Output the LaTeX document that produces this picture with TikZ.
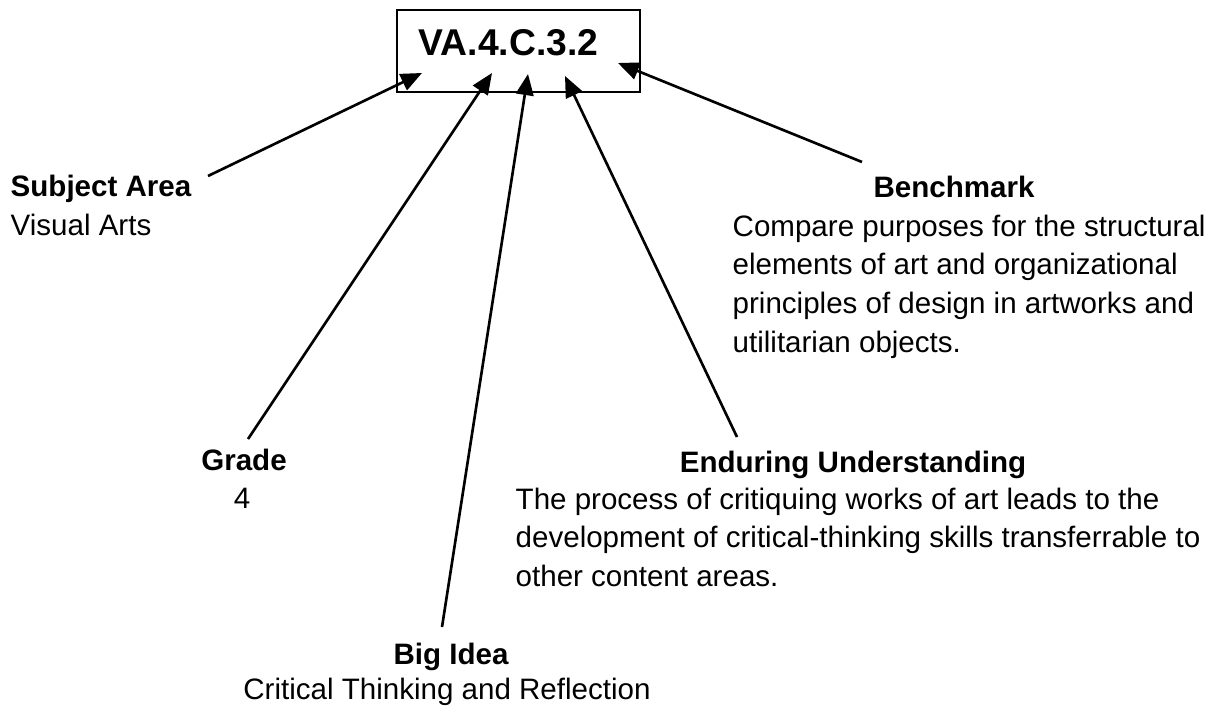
\documentclass[tikz,border=0pt]{standalone}
\usepackage{fontspec}
\setmainfont{Liberation Sans}
\usetikzlibrary{arrows.meta}

\tikzset{
  pointer/.style={line width=0.75pt, -{Triangle[length=6pt,width=5pt]}},
  codeframe/.style={draw, line width=0.75pt, minimum width=2.43cm,
                    minimum height=0.82cm, inner sep=0pt},
  codelabel/.style={font=\fontsize{10.6}{12}\selectfont\bfseries,
                    inner sep=0pt, anchor=base west},
  headtext/.style={font=\fontsize{8.4}{11}\selectfont\bfseries,
                   inner sep=0pt, anchor=base},
  bodyline/.style={font=\fontsize{8.4}{11}\selectfont,
                   inner sep=0pt, anchor=base},
  bodytext/.style={font=\fontsize{8.4}{11}\selectfont,
                   inner sep=0pt, align=left, anchor=north west},
}

\begin{document}
\begin{tikzpicture}[x=0.01cm, y=-0.01cm]
  \useasboundingbox (0,0) rectangle (1215,709);

  % the code in its frame
  \node[codeframe] (frame) at (518.5,51) {};
  \node[codelabel] (code) at (418,55) {VA.4.C.3.2};

  % labels
  \node[headtext, anchor=base west] (subjhead) at (10,196) {Subject Area};
  \node[bodyline, anchor=base west] (subjtext) at (10,235) {Visual Arts};

  \node[headtext] (gradehead) at (244,470) {Grade};
  \node[bodyline] (gradetext) at (242,508) {4};

  \node[headtext] (bighead) at (451,664) {Big Idea};
  \node[bodyline] (bigtext) at (447,699) {Critical Thinking and Reflection};

  \node[headtext] (enduhead) at (853,472) {Enduring Understanding};
  \node[bodytext] (endutext) at (515,487)
    {The process of critiquing works of art leads to the\\
     development of critical-thinking skills transferrable to\\
     other content areas.};

  \node[headtext] (benchhead) at (954,197) {Benchmark};
  \node[bodytext] (benchtext) at (732,214)
    {Compare purposes for the structural\\
     elements of art and organizational\\
     principles of design in artworks and\\
     utilitarian objects.};

  % arrow ends
  \coordinate (subjend) at (208,176);
  \coordinate (subjtip) at (422,73);
  \coordinate (gradeend) at (248,439);
  \coordinate (gradetip) at (492,73);
  \coordinate (bigend) at (442,627);
  \coordinate (bigtip) at (528,74);
  \coordinate (enduend) at (737,437);
  \coordinate (endutip) at (565,76);
  \coordinate (benchend) at (862,162);
  \coordinate (benchtip) at (618,63);

  \draw[pointer] (subjend) -- (subjtip);
  \draw[pointer] (gradeend) -- (gradetip);
  \draw[pointer] (bigend) -- (bigtip);
  \draw[pointer] (enduend) -- (endutip);
  \draw[pointer] (benchend) -- (benchtip);
\end{tikzpicture}
\end{document}
